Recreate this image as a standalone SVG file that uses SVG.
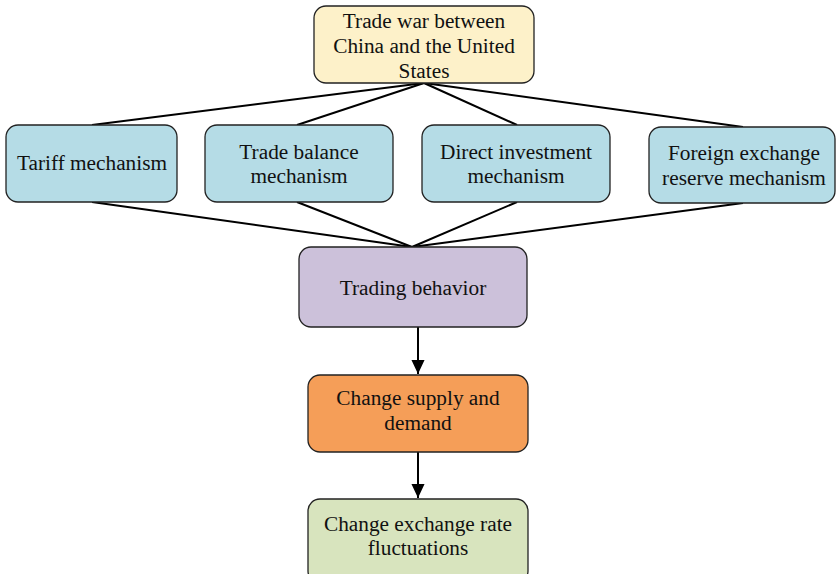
<svg xmlns="http://www.w3.org/2000/svg" width="836" height="574" viewBox="0 0 836 574">
<defs>
<style>
.n{stroke:#222;stroke-width:1.3}
.t{font-family:"Liberation Serif","Times New Roman",serif;font-size:21.3px;fill:#111;text-anchor:middle;dominant-baseline:central}
.c{stroke:#000;stroke-width:2;fill:none}
</style>
<marker id="ah" markerWidth="14" markerHeight="16" refX="15" refY="7" orient="auto" markerUnits="userSpaceOnUse" viewBox="0 0 15 14">
<path d="M0,0 L15,7 L0,14 Z" fill="#000"/>
</marker>
</defs>
<rect width="836" height="574" fill="#fff"/>
<g id="connectors">
<line class="c" x1="424" y1="83" x2="92" y2="125"/>
<line class="c" x1="424" y1="83" x2="297" y2="125"/>
<line class="c" x1="424" y1="83" x2="517" y2="125"/>
<line class="c" x1="424" y1="83" x2="743" y2="127"/>
<line class="c" x1="92" y1="202" x2="412" y2="247"/>
<line class="c" x1="297" y1="202" x2="412" y2="247"/>
<line class="c" x1="517" y1="202" x2="412" y2="247"/>
<line class="c" x1="743" y1="203" x2="412" y2="247"/>
<line class="c" x1="418" y1="327" x2="418" y2="374" stroke-width="1.5" marker-end="url(#ah)"/>
<line class="c" x1="418" y1="452" x2="418" y2="498" stroke-width="1.5" marker-end="url(#ah)"/>
</g>
<g id="trade-war">
<rect class="n" x="314" y="6" width="220" height="77" rx="12" fill="#fdf1c9"/>
<text class="t" x="424" y="21">Trade war between</text>
<text class="t" x="424" y="46">China and the United</text>
<text class="t" x="424" y="71">States</text>
</g>
<g id="tariff">
<rect class="n" x="6" y="125" width="171" height="77" rx="12" fill="#b5dce6"/>
<text class="t" x="92" y="163">Tariff mechanism</text>
</g>
<g id="trade-balance">
<rect class="n" x="205" y="125" width="188" height="77" rx="12" fill="#b5dce6"/>
<text class="t" x="299" y="152">Trade balance</text>
<text class="t" x="299" y="176">mechanism</text>
</g>
<g id="direct-investment">
<rect class="n" x="422" y="125" width="188" height="77" rx="12" fill="#b5dce6"/>
<text class="t" x="516" y="152">Direct investment</text>
<text class="t" x="516" y="176">mechanism</text>
</g>
<g id="foreign-exchange">
<rect class="n" x="649" y="127" width="186" height="76" rx="12" fill="#b5dce6"/>
<text class="t" x="744" y="153">Foreign exchange</text>
<text class="t" x="744" y="178">reserve mechanism</text>
</g>
<g id="trading-behavior">
<rect class="n" x="299" y="247" width="228" height="80" rx="12" fill="#ccc1da"/>
<text class="t" x="413" y="288">Trading behavior</text>
</g>
<g id="supply-demand">
<rect class="n" x="308" y="375" width="220" height="77" rx="12" fill="#f59e58"/>
<text class="t" x="418" y="398">Change supply and</text>
<text class="t" x="418" y="423">demand</text>
</g>
<g id="exchange-rate">
<rect class="n" x="308" y="499" width="220" height="84" rx="12" fill="#d8e4be"/>
<text class="t" x="418" y="524">Change exchange rate</text>
<text class="t" x="418" y="548">fluctuations</text>
</g>
</svg>
